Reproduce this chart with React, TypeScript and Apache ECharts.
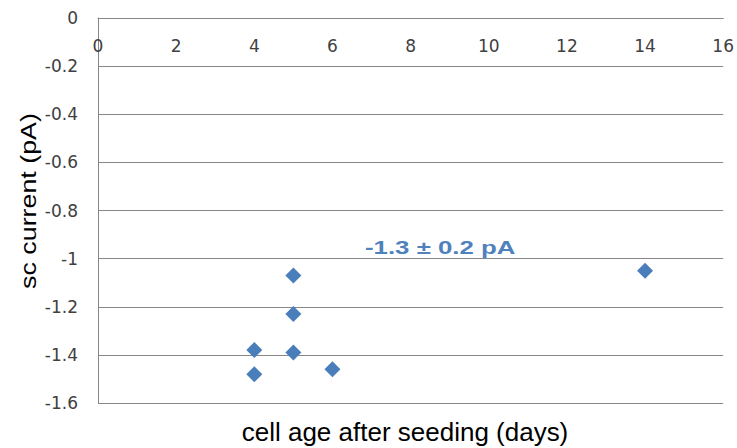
import React, { useEffect, useRef } from "react";
import * as echarts from "echarts";

const cellAgeDays = [4, 4, 5, 5, 5, 6, 14];
const scCurrentPA = [-1.38, -1.48, -1.07, -1.23, -1.39, -1.46, -1.05];
const annotationText = "-1.3 ± 0.2 pA";
const xAxisTitle = "cell age after seeding (days)";
const yAxisTitle = "sc current (pA)";

export default function App() {
  const ref = useRef<HTMLDivElement>(null);
  useEffect(() => {
    document.body.style.margin = "0";
    const chart = echarts.init(ref.current!, null, { renderer: "svg" });
    const points = cellAgeDays.map((x, i) => [x, scCurrentPA[i]]);
    chart.setOption({
      animation: false,
      backgroundColor: "#ffffff",
      grid: { left: 98, right: 13, top: 18, bottom: 45 },
      xAxis: {
        type: "value",
        position: "top",
        min: 0,
        max: 16,
        interval: 2,
        axisLine: { show: true, onZero: false, lineStyle: { color: "#878787", width: 1 } },
        axisTick: { show: false },
        splitLine: { show: false },
        axisLabel: {
          inside: true,
          margin: 19,
          color: "#404040",
          fontSize: 17,
          fontFamily: "DejaVu Sans",
        },
      },
      yAxis: {
        type: "value",
        min: -1.6,
        max: 0,
        interval: 0.2,
        axisLine: { show: true, lineStyle: { color: "#878787", width: 1 } },
        axisTick: { show: false },
        splitLine: { show: true, lineStyle: { color: "#878787", width: 1 } },
        axisLabel: {
          margin: 20,
          color: "#404040",
          fontSize: 17,
          fontFamily: "DejaVu Sans",
          formatter: (v: number) => String(Math.round(v * 10) / 10),
        },
      },
      series: [
        {
          type: "scatter",
          data: points,
          symbol: "diamond",
          symbolSize: [16, 16],
          itemStyle: { color: "#4a7ebb", opacity: 1 },
        },
      ],
      graphic: [
        {
          type: "text",
          x: 365,
          y: 247,
          scaleX: 1.36,
          style: {
            text: annotationText,
            fill: "#4f81bd",
            font: "bold 19px 'Liberation Sans'",
            align: "left",
            verticalAlign: "middle",
          },
        },
        {
          type: "text",
          x: 405,
          y: 432,
          scaleX: 1.04,
          style: {
            text: xAxisTitle,
            fill: "#000000",
            font: "25px 'Liberation Sans'",
            align: "center",
            verticalAlign: "middle",
          },
        },
        {
          type: "text",
          x: 28,
          y: 201,
          rotation: Math.PI / 2,
          scaleX: 1.22,
          style: {
            text: yAxisTitle,
            fill: "#000000",
            font: "22px 'Liberation Sans'",
            align: "center",
            verticalAlign: "middle",
          },
        },
      ],
    });
    return () => chart.dispose();
  }, []);
  return <div ref={ref} style={{ width: 737, height: 448 }} />;
}
